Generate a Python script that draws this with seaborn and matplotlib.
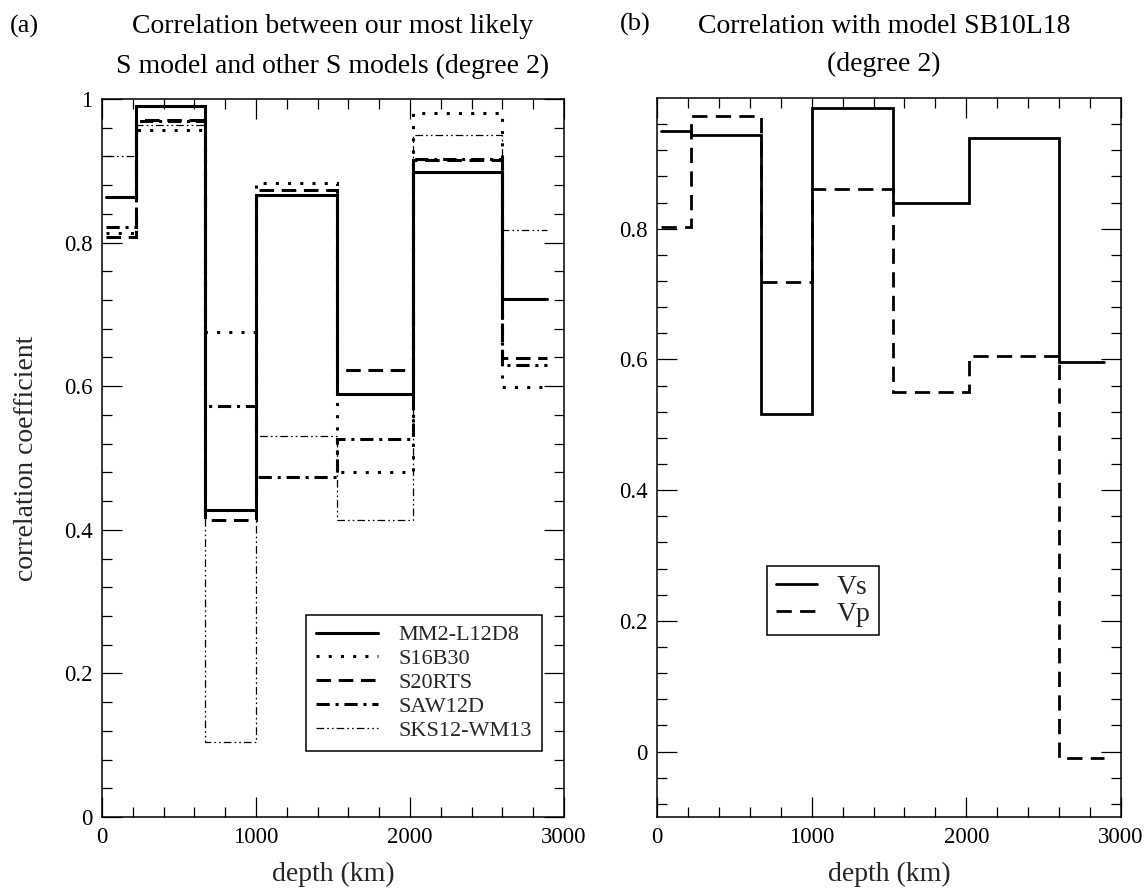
import numpy as np
import pandas as pd
import matplotlib
matplotlib.use("Agg")
import matplotlib.pyplot as plt
import seaborn as sns
from matplotlib.ticker import MultipleLocator, FixedLocator

# ---------------- data ----------------
depth_edges = [25, 220, 670, 1000, 1525, 2020, 2600, 2890]

models_a = ["MM2-L12D8", "S16B30", "S20RTS", "SAW12D", "SKS12-WM13"]
mm2_l12d8 = [0.864, 0.990, 0.428, 0.866, 0.589, 0.899, 0.722]
s16b30 = [0.814, 0.957, 0.676, 0.883, 0.480, 0.980, 0.599]
s20rts = [0.808, 0.971, 0.414, 0.873, 0.623, 0.915, 0.639]
saw12d = [0.822, 0.969, 0.572, 0.474, 0.527, 0.916, 0.630]
sks12_wm13 = [0.921, 0.964, 0.105, 0.530, 0.414, 0.950, 0.818]

models_b = ["Vs", "Vp"]
vs = [0.949, 0.944, 0.517, 0.985, 0.840, 0.939, 0.596]
vp = [0.803, 0.972, 0.719, 0.861, 0.550, 0.606, -0.009]

xticks = [0, 1000, 2000, 3000]
xtick_labels = ["0", "1000", "2000", "3000"]
yticks_a = [0, 0.2, 0.4, 0.6, 0.8, 1.0]
ytick_labels_a = ["0", "0.2", "0.4", "0.6", "0.8", "1"]
yticks_b = [0, 0.2, 0.4, 0.6, 0.8]
ytick_labels_b = ["0", "0.2", "0.4", "0.6", "0.8"]

title_a = ["Correlation between our most likely", "S model and other S models (degree 2)"]
title_b = ["Correlation with model SB10L18", "(degree 2)"]


def long_frame(names, series):
    rows = []
    for name, vals in zip(names, series):
        ys = list(vals) + [vals[-1]]
        for d, v in zip(depth_edges, ys):
            rows.append({"depth": d, "corr": v, "model": name})
    return pd.DataFrame(rows)


df_a = long_frame(models_a, [mm2_l12d8, s16b30, s20rts, saw12d, sks12_wm13])
df_b = long_frame(models_b, [vs, vp])

# ---------------- style ----------------
sns.set_theme(style="ticks")
plt.rcParams["font.family"] = ["Liberation Serif", "DejaVu Serif"]
plt.rcParams["lines.scale_dashes"] = False
plt.rcParams["axes.linewidth"] = 1.1
plt.rcParams["xtick.color"] = "black"
plt.rcParams["ytick.color"] = "black"

W, H = 1146, 890
fig = plt.figure(figsize=(W / 100, H / 100), dpi=100)

def px_axes(x0, x1, ytop, ybot):
    return fig.add_axes([x0 / W, 1 - ybot / H, (x1 - x0) / W, (ybot - ytop) / H])

ax_a = px_axes(102, 564, 99, 817)
ax_b = px_axes(657, 1121, 98, 817)

styles_a = {
    "MM2-L12D8": dict(ls="-", lw=2.2),
    "S16B30": dict(ls=(0, (2.2, 6.6)), lw=2.2),
    "S20RTS": dict(ls=(0, (10.5, 5.5)), lw=2.2),
    "SAW12D": dict(ls=(0, (9.5, 4.2, 2.2, 4.2)), lw=2.2),
    "SKS12-WM13": dict(ls=(0, (5.5, 2.2, 1.2, 2.2, 1.2, 2.2)), lw=0.9),
}
styles_b = {
    "Vs": dict(ls="-", lw=2.0),
    "Vp": dict(ls=(0, (11.0, 6.0)), lw=2.0),
}

for name in models_a:
    sub = df_a[df_a["model"] == name]
    sns.lineplot(data=sub, x="depth", y="corr", ax=ax_a, color="black",
                 drawstyle="steps-post", estimator=None, sort=True,
                 label=name, solid_joinstyle="miter", dash_joinstyle="miter",
                 **styles_a[name])

for name in models_b:
    sub = df_b[df_b["model"] == name]
    sns.lineplot(data=sub, x="depth", y="corr", ax=ax_b, color="black",
                 drawstyle="steps-post", estimator=None, sort=True,
                 label=name, solid_joinstyle="miter", dash_joinstyle="miter",
                 **styles_b[name])

for ax, yt, ytl, ylim in [(ax_a, yticks_a, ytick_labels_a, (0, 1)),
                          (ax_b, yticks_b, ytick_labels_b, (-0.1, 1.0))]:
    ax.set_xlim(0, 3000)
    ax.set_ylim(*ylim)
    ax.set_xticks(xticks)
    ax.set_xticklabels(xtick_labels)
    ax.xaxis.set_minor_locator(MultipleLocator(200))
    ax.set_yticks(yt)
    ax.set_yticklabels(ytl)
    lo, hi = ylim
    minors = [round(v, 2) for v in np.arange(-0.2, 1.2, 0.04) if lo + 1e-6 < v < hi - 1e-6]
    ax.yaxis.set_minor_locator(FixedLocator(minors))
    ax.tick_params(which="both", direction="in", top=True, right=True,
                   labelsize=16.5, width=0.9, color="black")
    ax.tick_params(which="major", length=14.4, pad=7)
    ax.tick_params(which="minor", length=7.2)
    for sp in ax.spines.values():
        sp.set_visible(True)
        sp.set_color("black")
        sp.set_linewidth(1.1)
    ax.set_xlabel("depth (km)", fontsize=20, labelpad=10)
    ax.set_ylabel("")
    ax.set_facecolor("white")

ax_a.set_ylabel("correlation coefficient", fontsize=20, labelpad=18)

leg_a = ax_a.legend(loc="lower right", bbox_to_anchor=(0.952, 0.092), borderaxespad=0,
                    fontsize=16, frameon=True, fancybox=False, framealpha=1,
                    edgecolor="black", handlelength=2.8, handletextpad=0.9,
                    labelspacing=0.15, borderpad=0.45)
leg_a.get_frame().set_linewidth(1.1)

leg_b = ax_b.legend(loc="lower left", bbox_to_anchor=(0.238, 0.253), borderaxespad=0,
                    fontsize=20, frameon=True, fancybox=False, framealpha=1,
                    edgecolor="black", handlelength=1.5, handletextpad=0.7,
                    labelspacing=0.05, borderpad=0.3)
leg_b.get_frame().set_linewidth(1.1)

# titles
def ftext(x, y, s, **kw):
    fig.text(x / W, 1 - y / H, s, va="baseline", color="black", **kw)

ftext(333, 33, title_a[0], ha="center", fontsize=20)
ftext(333, 73, title_a[1], ha="center", fontsize=20)
ftext(10, 33, "(a)", ha="left", fontsize=19)
ftext(884, 33, title_b[0], ha="center", fontsize=20)
ftext(884, 71, title_b[1], ha="center", fontsize=20)
ftext(620, 31, "(b)", ha="left", fontsize=19)

fig.savefig("out.png", dpi=100, facecolor="white")
